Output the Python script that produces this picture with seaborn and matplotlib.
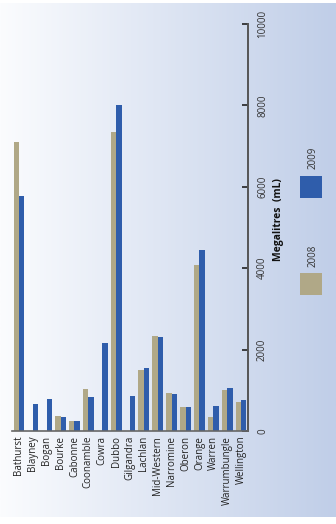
import numpy as np
import pandas as pd
import matplotlib
matplotlib.use("Agg")
import matplotlib.pyplot as plt
from matplotlib.patches import Rectangle
import seaborn as sns

councils = ["Bathurst", "Blayney", "Bogan", "Bourke", "Cabonne", "Coonamble",
            "Cowra", "Dubbo", "Gilgandra", "Lachlan", "Mid-Western", "Narromine",
            "Oberon", "Orange", "Warren", "Warrumbungle", "Wellington"]
years = ["2008", "2009"]
usage_2008 = [7100, 0, 0, 370, 250, 1030, 0, 7340, 0, 1500, 2330, 930,
              590, 4070, 340, 1010, 710]
usage_2009 = [5770, 660, 790, 340, 250, 830, 2160, 8010, 860, 1550, 2310, 910,
              590, 4440, 610, 1060, 760]
y_ticks = [0, 2000, 4000, 6000, 8000, 10000]

colors = {"2008": "#b0a887", "2009": "#2f5dab"}

df = pd.DataFrame({
    "Council": councils * 2,
    "Year": [years[0]] * len(councils) + [years[1]] * len(councils),
    "Megalitres": usage_2008 + usage_2009,
})

sns.set_theme(style="white")
plt.rcParams["font.family"] = ["Open Sans", "DejaVu Sans"]

W, H = 336, 524
fig = plt.figure(figsize=(W / 100, H / 100), dpi=100)
fig.patch.set_facecolor("white")

# horizontal white-to-blue wash behind everything
bg = fig.add_axes([0, 7 / H, 1, (H - 10) / H], zorder=-5)
left_c = np.array([251, 252, 254]) / 255
right_c = np.array([192, 206, 232]) / 255
t = np.linspace(0, 1, 256)[None, :, None]
grad = left_c[None, None, :] * (1 - t) + right_c[None, None, :] * t
bg.imshow(grad, aspect="auto", extent=[0, 1, 0, 1])
bg.set_axis_off()

x0, x1 = 12, 248
y_top, y_zero = 24, 431
ax = fig.add_axes([x0 / W, (H - y_zero) / H, (x1 - x0) / W, (y_zero - y_top) / H])
ax.patch.set_alpha(0)

sns.barplot(data=df, x="Council", y="Megalitres", hue="Year", hue_order=years,
            palette=colors, width=0.78, saturation=1, legend=False, ax=ax,
            linewidth=0)

ax.set_ylim(0, 10000)
ax.set_xlim(-0.5, len(councils) - 0.5)
ax.set_yticks(y_ticks)
ax.yaxis.tick_right()
ax.yaxis.set_label_position("right")
ax.tick_params(axis="y", direction="in", length=4, width=1.2, color="#222222",
               pad=6.5, labelsize=7, labelcolor="#333333", labelrotation=90)
for lab in ax.get_yticklabels():
    lab.set_va("center")
ax.set_ylabel("Megalitres  (mL)", fontsize=7.5, fontweight="bold",
              rotation=90, color="#111111")
ax.yaxis.set_label_coords(278 / W, (H - 220) / H, transform=fig.transFigure)
ax.yaxis.label.set_va("center")

ax.set_xlabel("")
ax.tick_params(axis="x", length=0, pad=3.5, labelsize=7, labelcolor="#222222",
               labelrotation=90)
ax.set_xticks(range(len(councils)))
ax.set_xticks(np.arange(-0.5, len(councils), 1.0)[1:-1], minor=True)
ax.tick_params(axis="x", which="minor", direction="in", length=4.5, width=1,
               color="#444444")

for side in ["left", "top"]:
    ax.spines[side].set_visible(False)
ax.spines["right"].set_color("#555555")
ax.spines["right"].set_linewidth(1.4)
ax.spines["bottom"].set_color("#666666")
ax.spines["bottom"].set_linewidth(1.2)

# legend: swatch with rotated label above it
for yr, (box_top, lbl_y) in zip(["2009", "2008"], [(176, 158), (273, 256)]):
    fig.add_artist(Rectangle((300 / W, 1 - (box_top + 22) / H), 22 / W, 22 / H,
                             transform=fig.transFigure, facecolor=colors[yr],
                             edgecolor="none"))
    fig.text(313 / W, 1 - lbl_y / H, yr, rotation=90, ha="center", va="center",
             fontsize=7, color="#333333")

fig.savefig("out.png", dpi=100)
